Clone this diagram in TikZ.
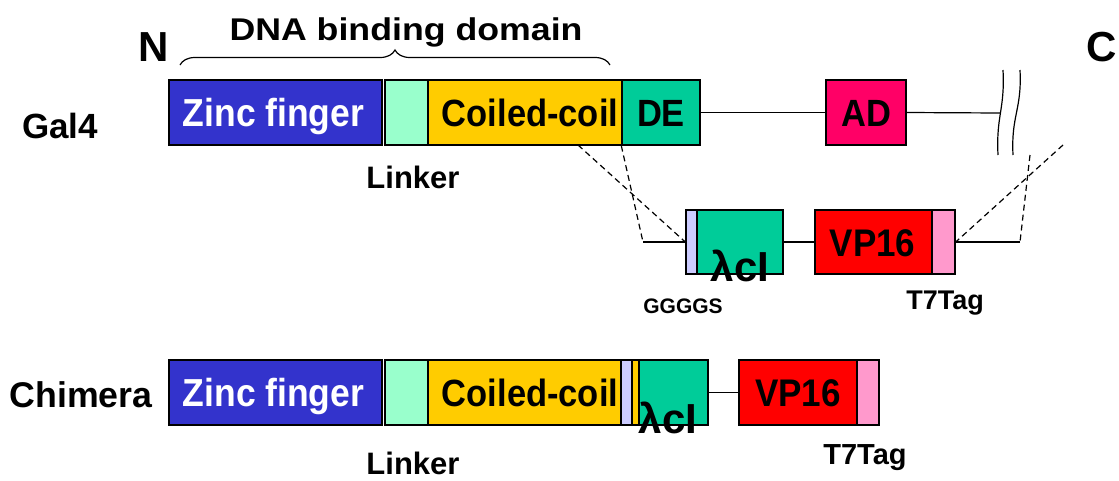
\documentclass[tikz,border=0pt]{standalone}
\usepackage{fontspec}
\setmainfont{Liberation Sans}
\usetikzlibrary{decorations.pathreplacing}
\definecolor{zfblue}{HTML}{3333CC}
\definecolor{lkgreen}{HTML}{99FFCC}
\definecolor{ccyellow}{HTML}{FFCC00}
\definecolor{lcteal}{HTML}{00CC99}
\definecolor{adpink}{HTML}{FF0066}
\definecolor{vpred}{HTML}{FF0000}
\definecolor{tagpink}{HTML}{FF99CC}
\definecolor{gslav}{HTML}{CCCCFF}
\newcommand{\fsz}[1]{\bfseries\fontsize{#1}{#1}\selectfont}
% box labels are set a little taller than the plain font
\newcommand{\tall}[1]{\scalebox{1}[1.1]{#1}}
\begin{document}
\begin{tikzpicture}[x=1pt,y=-1pt,
  seg/.style={draw=black,line width=1.4pt,rectangle,inner sep=0pt,
    minimum height=65pt},
  txt/.style={inner sep=0pt,font=\fsz{34}},
  boxtxt/.style={inner sep=0pt,anchor=base,font=\fsz{35},yshift=-14pt},
  link/.style={line width=1.2pt},
  cut/.style={line width=1.2pt,dash pattern=on 6pt off 4pt}]
\useasboundingbox (0,0) rectangle (1119,480);

% ---------- Gal4 ----------
\node[txt,font=\fsz{35}] (gal) at (60,126) {Gal4};
\node[txt,font=\fsz{42}] (nterm) at (154,47) {N};
\node[txt,font=\fsz{42}] (cterm) at (1102,47) {C};
\node[seg,fill=zfblue,minimum width=213pt] (zf1) at (275.5,112.5) {};
\node[seg,fill=lkgreen,minimum width=43pt] (lk1) at (406.5,112.5) {};
\node[seg,fill=ccyellow,minimum width=194pt] (cc1) at (525,112.5) {};
\node[seg,fill=lcteal,minimum width=78pt] (de1) at (661,112.5) {};
\node[seg,fill=adpink,minimum width=80pt] (ad1) at (866,112.5) {};
\node[boxtxt,text=white,font=\fsz{35.5}] at ([xshift=-2pt]zf1.center) {\tall{Zinc finger}};
\node[boxtxt,font=\fsz{34.5}] at ([xshift=5pt]cc1.center) {\tall{Coiled-coil}};
\node[boxtxt,font=\fsz{34.5}] at (de1.center) {\tall{DE}};
\node[boxtxt,font=\fsz{34.5}] at (ad1.center) {\tall{AD}};
\node[txt,font=\fsz{31}] (lkt1) at (413,177) {Linker};

% brace over the DNA binding domain
\coordinate (brl) at (180,65);
\coordinate (brr) at (610,65);
\draw[line width=1.2pt,decorate,decoration={brace,amplitude=15pt}] (brl) -- (brr);
\node[txt,font=\fsz{35.7}] (dbd) at (406,32) {\scalebox{1}[0.88]{DNA binding domain}};

% backbone and break marks
\coordinate (brk) at (1000,113);
\draw[link] (de1.east) -- (ad1.west);
\draw[link] (ad1.east) -- (brk);
\draw[link] (1003,70) .. controls (1005,110) and (996,115) .. (998,155);
\draw[link] (1020,70) .. controls (1022,110) and (1011,115) .. (1013,155);

% ---------- inserted fragment ----------
\begin{scope}[seg/.append style={minimum height=64pt}]
\node[seg,fill=gslav,minimum width=11pt] (gs1) at (691.5,242) {};
\node[seg,fill=lcteal,minimum width=86pt] (lc1) at (740,242) {};
\node[seg,fill=vpred,minimum width=117pt] (vp1) at (873.5,242) {};
\node[seg,fill=tagpink,minimum width=23pt] (tg1) at (943.5,242) {};
\end{scope}
\node[boxtxt] at ([xshift=-1pt]vp1.center) {\tall{VP16}};
\node[txt,font=\fsz{42}] (lct1) at (740,266) {λcI};
\node[txt,font=\fsz{21}] (gst) at (683,306) {GGGGS};
\node[txt,font=\fsz{27}] (tgt1) at (945,303) {T7Tag};
\draw[link] (lc1.east) -- (vp1.west);

% splice lines
\coordinate (cl1) at (578,145);
\coordinate (cl2) at (643,242);
\coordinate (cr1) at (1063,145);
\coordinate (cr2) at (1030,155);
\coordinate (cr3) at (1020,242);
\draw[cut] (cl1) -- (gs1.west);
\draw[cut] (de1.south west) -- (cl2);
\draw[link] (cl2) -- (gs1.west);
\draw[cut] (cr1) -- (tg1.east);
\draw[cut] (cr2) -- (cr3);
\draw[link] (cr3) -- (tg1.east);

% ---------- Chimera ----------
\node[txt,font=\fsz{35.7}] (chim) at (81,395) {Chimera};
\node[seg,fill=zfblue,minimum width=213pt] (zf2) at (275.5,392.5) {};
\node[seg,fill=lkgreen,minimum width=43pt] (lk2) at (406.5,392.5) {};
\node[seg,fill=ccyellow,minimum width=193pt] (cc2) at (524.5,392.5) {};
\node[seg,fill=gslav,minimum width=11pt] (gs2) at (626.5,392.5) {};
\node[seg,fill=ccyellow,minimum width=7pt] (cy2) at (635.5,392.5) {};
\node[seg,fill=lcteal,minimum width=69pt] (lc2) at (673.5,392.5) {};
\node[seg,fill=vpred,minimum width=118pt] (vp2) at (798,392.5) {};
\node[seg,fill=tagpink,minimum width=22pt] (tg2) at (868,392.5) {};
\node[boxtxt,text=white,font=\fsz{35.5}] at ([xshift=-2pt]zf2.center) {\tall{Zinc finger}};
\node[boxtxt,font=\fsz{34.5}] at ([xshift=5.5pt]cc2.center) {\tall{Coiled-coil}};
\node[boxtxt] at ([xshift=0pt]vp2.center) {\tall{VP16}};
\node[txt,font=\fsz{42}] (lct2) at (668,418) {λcI};
\node[txt,font=\fsz{31}] (lkt2) at (413,463) {Linker};
\node[txt,font=\fsz{29}] (tgt2) at (865,458) {T7Tag};
\draw[link] (lc2.east) -- (vp2.west);
\end{tikzpicture}
\end{document}
